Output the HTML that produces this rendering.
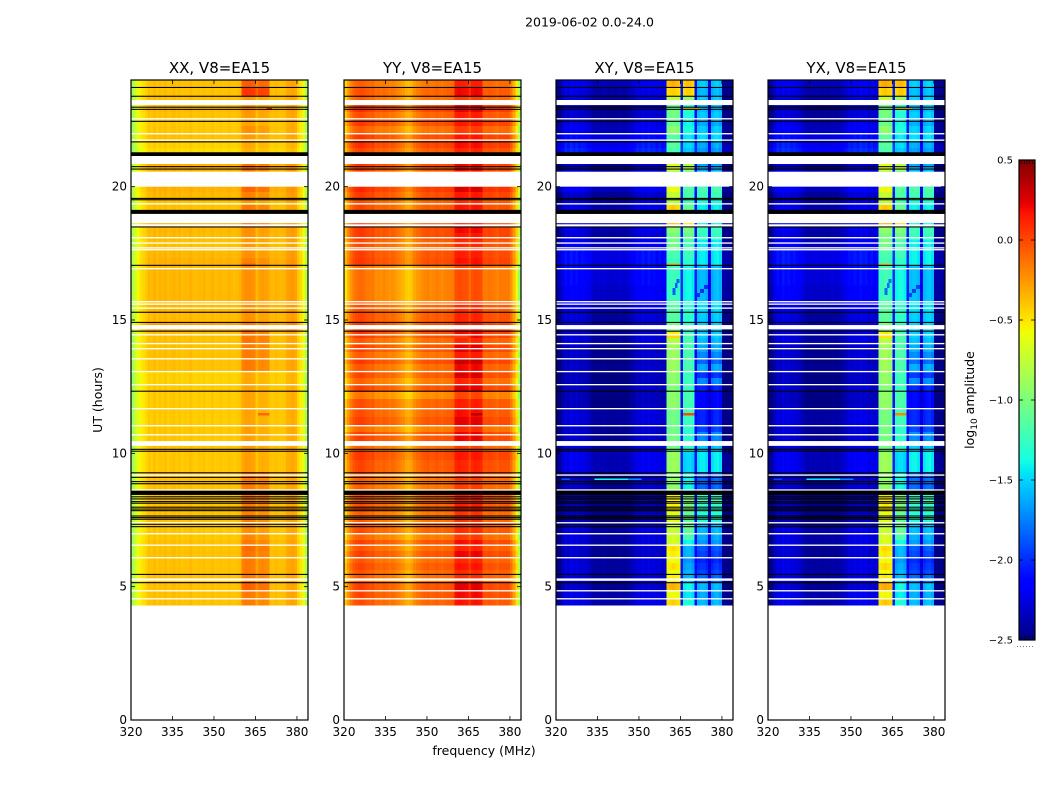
<!DOCTYPE html>
<html lang="en">
<head>
<meta charset="utf-8">
<title>2019-06-02 0.0-24.0</title>
<style>
html,body{margin:0;padding:0;background:#fff}
svg{display:block}
text{font-family:"DejaVu Sans","Liberation Sans",sans-serif;fill:#000}
</style>
</head>
<body>
<svg id="figure" xmlns="http://www.w3.org/2000/svg" width="1050" height="800" viewBox="0 0 1050 800">
<rect x="0" y="0" width="1050" height="800" fill="#fff"/>
<text x="589.5" y="26.5" font-size="12.5" text-anchor="middle">2019-06-02 0.0-24.0</text>
<text x="484" y="755" font-size="12.5" text-anchor="middle">frequency (MHz)</text>
<text x="0" y="0" font-size="12.5" text-anchor="middle" transform="translate(102,400) rotate(-90)">UT (hours)</text>
<text x="0" y="0" font-size="12.5" text-anchor="middle" transform="translate(974,400) rotate(-90)">log<tspan font-size="9" dy="3">10</tspan><tspan dy="-3"> amplitude</tspan></text>
<g id="panels"></g>
<g id="colorbar"></g>
</svg>
<script>
// ---------- categories and tick labels ----------
var panelTitles = ["XX, V8=EA15", "YY, V8=EA15", "XY, V8=EA15", "YX, V8=EA15"];
var freqTicks = [320, 335, 350, 365, 380];
var hourTicks = [0, 5, 10, 15, 20];
var colorTicks = [-2.5, -2.0, -1.5, -1.0, -0.5, 0.0, 0.5];
var colorTickLabels = ["\u22122.5", "\u22122.0", "\u22121.5", "\u22121.0", "\u22120.5", "0.0", "0.5"];

// ---------- log10 amplitude per 1 MHz channel (320..383 MHz) ----------
var specXX = [-0.85,-0.72,-0.6,-0.52,-0.48,-0.44,-0.38,-0.4,-0.36,-0.4,
              -0.37,-0.39,-0.36,-0.4,-0.38,-0.36,-0.39,-0.37,-0.4,-0.38,
              -0.39,-0.36,-0.39,-0.4,-0.38,-0.39,-0.37,-0.4,-0.39,-0.37,
              -0.4,-0.39,-0.38,-0.4,-0.39,-0.37,-0.39,-0.4,-0.38,-0.36,
              -0.28,-0.25,-0.25,-0.26,-0.27,-0.38,-0.31,-0.3,-0.31,-0.32,
              -0.38,-0.38,-0.36,-0.38,-0.38,-0.37,-0.31,-0.3,-0.28,-0.31,
              -0.42,-0.5,-0.62,-0.82];
var specYY = [-0.45,-0.32,-0.2,-0.12,-0.08,-0.06,-0.05,-0.08,-0.1,-0.12,
              -0.1,-0.17,-0.16,-0.18,-0.15,-0.17,-0.2,-0.18,-0.2,-0.24,
              -0.27,-0.3,-0.36,-0.38,-0.34,-0.26,-0.22,-0.2,-0.16,-0.15,
              -0.13,-0.16,-0.15,-0.12,-0.14,-0.16,-0.13,-0.12,-0.12,-0.1,
              0.03,0.05,0.04,0.03,0.02,-0.06,0.03,0.05,0.04,0.03,
              -0.1,-0.11,-0.09,-0.1,-0.12,-0.14,-0.1,-0.11,-0.1,-0.11,
              -0.2,-0.35,-0.55,-0.85];
var specXY = [-2.47,-2.45,-2.32,-2.22,-2.27,-2.2,-2.25,-2.21,-2.27,-2.24,
              -2.26,-2.3,-2.33,-2.38,-2.4,-2.39,-2.41,-2.38,-2.4,-2.42,
              -2.39,-2.41,-2.4,-2.38,-2.41,-2.4,-2.36,-2.33,-2.3,-2.24,
              -2.26,-2.21,-2.26,-2.2,-2.24,-2.22,-2.27,-2.24,-2.29,-2.27,
              -1.08,-1.04,-1.02,-1.05,-1.08,-2.05,-1.32,-1.28,-1.28,-1.34,
              -2.1,-1.55,-1.52,-1.52,-1.58,-2.25,-1.58,-1.52,-1.5,-1.56,
              -2.45,-2.46,-2.47,-2.48];
var specYX = [-2.47,-2.44,-2.3,-2.21,-2.25,-2.18,-2.23,-2.2,-2.25,-2.22,
              -2.26,-2.28,-2.32,-2.37,-2.4,-2.38,-2.4,-2.38,-2.39,-2.41,
              -2.38,-2.4,-2.39,-2.37,-2.4,-2.38,-2.35,-2.32,-2.28,-2.23,
              -2.24,-2.2,-2.24,-2.18,-2.22,-2.2,-2.26,-2.22,-2.27,-2.25,
              -1.06,-1.02,-1.0,-1.03,-1.06,-2.05,-1.3,-1.26,-1.26,-1.32,
              -2.1,-1.52,-1.5,-1.5,-1.55,-2.25,-1.55,-1.5,-1.48,-1.54,
              -2.45,-2.46,-2.47,-2.48];

// ---------- time rows: UT hour at the top of each row (last entry is the end) ----------
var rowTopUT = [24,23.74,23.40,23.06,22.80,22.58,22.28,22.01,21.68,21.45,
                21.15,20.59,19.99,19.80,19.58,19.31,18.98,18.49,18.26,18.00,
                17.63,17.33,17.06,16.31,15.71,15.30,14.93,14.59,14.33,14.06,
                13.80,13.58,13.35,13.09,12.83,12.60,12.30,12.04,11.70,11.48,
                11.36,11.06,10.80,10.46,10.05,9.75,9.30,9.08,8.63,8.14,
                7.80,7.43,7.01,6.75,6.56,6.34,6.11,5.89,5.63,5.44,
                5.14,4.88,4.58,4.31];
// per-row offsets, log10 amplitude
var gainXX = [0,0,0,.02,0,-.03,-.02,0,-.05,-.08,
              .05,0,.05,.03,0,0,.05,.03,.02,0,
              .03,.05,.03,.03,.03,.02,.1,0,0,0,
              0,0,0,-.05,-.05,-.03,-.03,-.03,-.03,-.03,
              -.03,-.02,-.02,0,-.02,-.02,0,0,0,0,
              0,-.02,-.02,0,0,0,0,0,0,0,
              0,0,0];
var rfiXX = [.2,.32,0,0,0,0,.05,0,0,0,
             .08,0,.12,.05,0,.1,.1,0,0,0,
             0,.03,0,0,0,0,0,.12,.12,.1,
             .1,.1,.1,0,0,0,0,0,0,0,
             0,0,0,0,0,0,.1,.1,.12,.1,
             .08,.05,.08,.1,.15,.12,.1,.1,.1,.1,
             .18,.1,.1];
var gainYY = [0,.05,0,.15,.05,.12,0,.12,.15,.08,
              .12,0,.18,.12,.05,.08,.1,.12,.12,.06,
              .1,.12,-.05,-.05,.05,.08,.12,.12,.02,.1,
              0,.12,.02,.08,-.02,.1,-.08,.05,.05,.05,
              .1,-.03,.1,0,.12,.08,0,0,.05,.05,
              0,.05,-.02,.1,.03,.1,.02,.08,.03,.02,
              .1,.08,.05];
var rfiYY = [.1,.12,0,.05,.05,0,0,0,0,0,
             .05,0,.05,0,0,.05,.05,.05,0,0,
             0,.02,0,0,0,0,0,.05,.05,.1,
             .1,.15,.15,.15,.1,.1,.05,.05,.1,.1,
             .1,.08,.08,0,0,0,0,0,.05,.05,
             .03,0,.02,.05,.05,.08,.05,.05,.03,.03,
             .1,.08,.08];
var gainCrossLow = [.05,0,0,-.05,-.05,0,.05,.12,.18,.22,
                    -.05,0,.05,-.05,-.05,0,0,0,-.02,.05,
                    .15,.15,.12,.08,.02,-.03,.05,-.03,-.03,-.08,
                    -.06,-.1,-.06,-.1,-.1,-.06,-.1,-.1,-.02,-.02,
                    -.02,-.06,-.06,0,.03,.03,-.06,-.06,-.15,-.15,
                    -.12,-.02,-.02,-.02,-.06,-.06,-.02,-.02,-.02,-.02,
                    -.06,0,0];
// channels 360-364
var gainCrossInner = [.7,.6,.3,0,0,-.05,.1,-.1,-.1,-.15,
                      .4,0,.45,.3,.25,.6,.7,.1,0,0,
                      -.15,-.2,-.2,-.2,-.1,-.1,0,.5,.25,.15,
                      .15,.15,.15,.1,.1,.05,.1,.1,0,0,
                      0,0,0,0,.15,.15,.1,.1,.5,.5,
                      .4,.3,.35,.35,.55,.5,.45,.55,.45,.5,
                      .7,.45,.6];
// channels 366-369
var gainCrossMid = [.9,.85,.4,0,-.05,-.1,-.05,-.15,-.2,-.25,
                    .5,0,.15,.1,.1,.2,.8,.3,.2,.1,
                    .05,0,-.1,-.1,0,0,0,.1,.1,.1,
                    .1,.1,.1,.05,.05,.05,.1,.1,.05,.05,
                    .05,0,0,0,-.2,-.2,-.1,-.1,.3,.3,
                    .2,.2,.1,-.1,-.3,-.3,-.4,-.35,-.3,-.3,
                    -.1,-.15,-.05];
// channels 371-379
var gainCrossOuter = [0,-.05,0,-.05,0,-.1,0,.05,-.1,-.15,
                      -.1,0,.35,.3,.2,.1,.1,.3,.25,.1,
                      .1,.1,-.05,-.05,.05,0,0,0,-.05,-.1,
                      -.2,-.3,-.1,-.45,-.2,-.5,-.6,-.6,-.5,-.5,
                      -.5,-.4,-.2,0,.1,.1,-.3,-.3,.3,.25,
                      .2,-.05,-.1,-.15,-.35,-.4,-.5,-.45,-.4,-.3,
                      -.05,-.1,-.05];

// ---------- flagged time ranges (UT hours, top then bottom) ----------
var blankTop = [23.25,22.57,22.01,21.77,21.15,20.56,19.38,18.98,18.59,18.11,17.91,17.73,17.66,16.95,15.71,15.62,15.47,14.81,14.47,14.14,13.95,13.57,13.09,12.60,11.70,11.06,10.72,10.46,9.21,8.65,7.42,7.01,6.58,6.11,5.31,4.87,4.57];
var blankBottom = [23.06,22.52,21.96,21.72,20.85,20.00,19.33,18.63,18.50,18.06,17.86,17.68,17.61,16.90,15.66,15.57,15.42,14.65,14.42,14.09,13.90,13.52,13.04,12.55,11.65,11.01,10.67,10.28,9.16,8.60,7.37,6.96,6.53,6.06,5.22,4.82,4.52];
var flagTop = [23.74,23.41,23.00,22.92,22.47,21.70,21.29,20.77,20.68,19.58,19.53,19.13,18.51,17.07,15.31,14.93,14.60,12.35,10.17,10.10,9.29,9.12,8.96,8.88,8.60,8.39,8.31,8.21,8.15,8.00,7.93,7.87,7.67,7.61,7.55,7.36,7.27,5.48,5.17];
var flagBottom = [23.70,23.37,22.96,22.88,22.43,21.66,21.15,20.73,20.64,19.54,19.49,18.98,18.47,17.03,15.27,14.89,14.56,12.31,10.13,10.06,9.25,9.08,8.92,8.84,8.44,8.35,8.27,8.17,8.11,7.96,7.89,7.83,7.63,7.57,7.51,7.32,7.23,5.44,5.13];

// ---------- short interference bursts and drifting arcs (null = not seen in that polarisation) ----------
var burstTop =    [22.95,22.95,17.12,14.45,11.52, 9.06, 9.06, 9.06, 16.54,16.39,16.20, 16.31,16.16,16.01];
var burstBottom = [22.87,22.87,17.05,14.33,11.42, 9.00, 9.00, 9.00, 16.39,16.20,15.94, 16.16,16.01,15.86];
var burstFreqLo = [369,  366,  360,  360,  366,   322,  334,  346,  363.6,363,  362.2, 373.5,372,  370.8];
var burstFreqHi = [371,  372,  365,  365,  370,   325,  346,  351,  364.6,364,  363.2, 375,  373.5,372];
var burstXX = [0.2, null,-0.1,-0.15,-0.1, null,null,null, null,null,null, null,null,null];
var burstYY = [0.4, null, 0.1, 0.05, 0.35,null,null,null, null,null,null, null,null,null];
var burstXY = [null,-0.3,-0.3,-0.45, 0.0, -1.9,-1.4,-1.7, -1.85,-1.85,-1.85, -2.0,-2.0,-2.0];
var burstYX = [null,-0.35,-0.35,-0.5,-0.2,-1.95,-1.45,-1.75, -1.8,-1.8,-1.8, -1.95,-1.95,-1.95];

// ---------- layout and scales ----------
var svgNS = "http://www.w3.org/2000/svg";
var panelLeft = [131, 344, 556, 768];
var panelWidth = 177;
var plotTop = 80, plotBottom = 720;
var freqMin = 320, freqMax = 384;
var hourMin = 0, hourMax = 24;
var colorMin = -2.5, colorMax = 0.5;
var cbLeft = 1019, cbRight = 1035, cbTop = 160, cbBottom = 640;

function xScale(panel, f) { return panelLeft[panel] + (f - freqMin) / (freqMax - freqMin) * panelWidth; }
function yScale(h) { return plotBottom - (h - hourMin) / (hourMax - hourMin) * (plotBottom - plotTop); }
function cbScale(v) { return cbBottom - (v - colorMin) / (colorMax - colorMin) * (cbBottom - cbTop); }

function ramp(t, pts) {
  for (var i = 1; i < pts.length; i++) {
    if (t <= pts[i][0]) {
      var a = pts[i - 1], b = pts[i];
      return a[1] + (b[1] - a[1]) * (t - a[0]) / (b[0] - a[0]);
    }
  }
  return pts[pts.length - 1][1];
}
var jetR = [[0,0],[0.35,0],[0.66,1],[0.89,1],[1,0.5]];
var jetG = [[0,0],[0.125,0],[0.375,1],[0.64,1],[0.91,0],[1,0]];
var jetB = [[0,0.5],[0.11,1],[0.34,1],[0.65,0],[1,0]];
function jet(v) {
  var t = Math.max(0, Math.min(1, (v - colorMin) / (colorMax - colorMin)));
  return "rgb(" + Math.round(255 * ramp(t, jetR)) + "," + Math.round(255 * ramp(t, jetG)) + "," + Math.round(255 * ramp(t, jetB)) + ")";
}
function make(parent, tag, attrs, text) {
  var el = document.createElementNS(svgNS, tag);
  for (var k in attrs) el.setAttribute(k, attrs[k]);
  if (text !== undefined) el.textContent = text;
  parent.appendChild(el);
  return el;
}
function cellValue(panel, row, ch) {
  var f = freqMin + ch;
  var rfi = f >= 360 && f <= 369;
  if (panel === 0) return specXX[ch] + gainXX[row] + (rfi ? rfiXX[row] : 0);
  if (panel === 1) return specYY[ch] + gainYY[row] + (rfi ? rfiYY[row] : 0);
  var base = panel === 2 ? specXY[ch] : specYX[ch];
  if (f === 365 || f === 370 || f === 375 || f >= 380) return base + gainCrossLow[row] * 0.5;
  if (f >= 360 && f <= 364) return base + gainCrossInner[row];
  if (f >= 366 && f <= 369) return base + gainCrossMid[row];
  if (f >= 371 && f <= 379) return base + gainCrossOuter[row];
  return base + gainCrossLow[row];
}

var panelsGroup = document.getElementById("panels");
var burstSets = [burstXX, burstYY, burstXY, burstYX];

panelTitles.forEach(function (title, p) {
  var g = make(panelsGroup, "g", {});
  
  

  var cells = make(g, "g", { "shape-rendering": "crispEdges" });
  
  
  for (var r = 0; r < rowTopUT.length - 1; r++) {
    var y0 = yScale(rowTopUT[r]), y1 = yScale(rowTopUT[r + 1]);
    for (var c = 0; c < specXX.length; c++) {
      var x0 = xScale(p, freqMin + c), x1 = xScale(p, freqMin + c + 1);
      var cell = make(cells, "rect", { x: x0.toFixed(2), y: y0.toFixed(2), width: (x1 - x0 + 0.4).toFixed(2), height: (y1 - y0 + 0.4).toFixed(2), fill: jet(cellValue(p, r, c)) });
      
      
    }
  }
  burstTop.forEach(function (top, i) {
    if (burstSets[p][i] === null) return;
    var bx = xScale(p, burstFreqLo[i]);
    var burst = make(cells, "rect", { x: bx.toFixed(2), y: yScale(top).toFixed(2), width: (xScale(p, burstFreqHi[i]) - bx).toFixed(2), height: (yScale(burstBottom[i]) - yScale(top)).toFixed(2), fill: jet(burstSets[p][i]) });
    
    
  });
  blankTop.forEach(function (top, i) {
    var blank = make(g, "rect", { x: panelLeft[p], y: yScale(top).toFixed(2), width: panelWidth, height: (yScale(blankBottom[i]) - yScale(top)).toFixed(2), fill: "#fff" });
    
    
  });
  flagTop.forEach(function (top, i) {
    var flag = make(g, "rect", { x: panelLeft[p], y: yScale(top).toFixed(2), width: panelWidth, height: (yScale(flagBottom[i]) - yScale(top)).toFixed(2), fill: "#000" });
    
    
  });

  var frame = make(g, "rect", { x: panelLeft[p], y: plotTop, width: panelWidth, height: plotBottom - plotTop, fill: "none", stroke: "#000", "stroke-width": 1.2 });
  
  

  var panelTitle = make(g, "text", { x: panelLeft[p] + panelWidth / 2, y: 73, "font-size": 15, "text-anchor": "middle" }, title);
  
  

  freqTicks.forEach(function (f) {
    var x = xScale(p, f);
    var tickB = make(g, "line", { x1: x, x2: x, y1: plotBottom, y2: plotBottom - 4, stroke: "#000", "stroke-width": 0.8 });
    
    
    var tickT = make(g, "line", { x1: x, x2: x, y1: plotTop, y2: plotTop + 4, stroke: "#000", "stroke-width": 0.8 });
    
    
    var lab = make(g, "text", { x: x, y: 736, "font-size": 12, "text-anchor": "middle" }, String(f));
    
    
  });
  hourTicks.forEach(function (h) {
    var y = yScale(h);
    var tickL = make(g, "line", { x1: panelLeft[p], x2: panelLeft[p] + 4, y1: y, y2: y, stroke: "#000", "stroke-width": 0.8 });
    
    
    var tickR = make(g, "line", { x1: panelLeft[p] + panelWidth, x2: panelLeft[p] + panelWidth - 4, y1: y, y2: y, stroke: "#000", "stroke-width": 0.8 });
    
    
    var lab = make(g, "text", { x: panelLeft[p] - 4, y: y + 4, "font-size": 12, "text-anchor": "end" }, String(h));
    
    
  });
});

// ---------- colorbar ----------
var cbGroup = document.getElementById("colorbar");
var cbSteps = 160;
var cbFill = make(cbGroup, "g", { "shape-rendering": "crispEdges" });


for (var s = 0; s < cbSteps; s++) {
  var vLow = colorMin + (colorMax - colorMin) * s / cbSteps;
  var vHigh = colorMin + (colorMax - colorMin) * (s + 1) / cbSteps;
  var band = make(cbFill, "rect", { x: cbLeft, y: cbScale(vHigh).toFixed(2), width: cbRight - cbLeft, height: (cbScale(vLow) - cbScale(vHigh) + 0.4).toFixed(2), fill: jet((vLow + vHigh) / 2) });
  
  
}
var cbFrame = make(cbGroup, "rect", { x: cbLeft, y: cbTop, width: cbRight - cbLeft, height: cbBottom - cbTop, fill: "none", stroke: "#000", "stroke-width": 1.2 });


colorTicks.forEach(function (v, i) {
  var y = cbScale(v);
  var t1 = make(cbGroup, "line", { x1: cbLeft, x2: cbLeft + 4, y1: y, y2: y, stroke: "#000", "stroke-width": 0.8 });
  
  
  var t2 = make(cbGroup, "line", { x1: cbRight, x2: cbRight - 4, y1: y, y2: y, stroke: "#000", "stroke-width": 0.8 });
  
  
  var lab = make(cbGroup, "text", { x: 1013, y: y + 3.5, "font-size": 10, "text-anchor": "end" }, colorTickLabels[i]);
  
  
});
for (var m = 1; m < 6; m++) {
  var mx = cbLeft + (cbRight - cbLeft) * m / 6;
  var mt = make(cbGroup, "line", { x1: mx, x2: mx, y1: cbTop, y2: cbTop + 4, stroke: "#000", "stroke-width": 0.6 });
  
  
  var mb = make(cbGroup, "line", { x1: mx, x2: mx, y1: cbBottom, y2: cbBottom - 4, stroke: "#000", "stroke-width": 0.6 });
  
  
}
var cbDots = make(cbGroup, "line", { x1: 1017, x2: 1035, y1: 646.5, y2: 646.5, stroke: "#777", "stroke-width": 1, "stroke-dasharray": "1 2" });


</script>
</body>
</html>
